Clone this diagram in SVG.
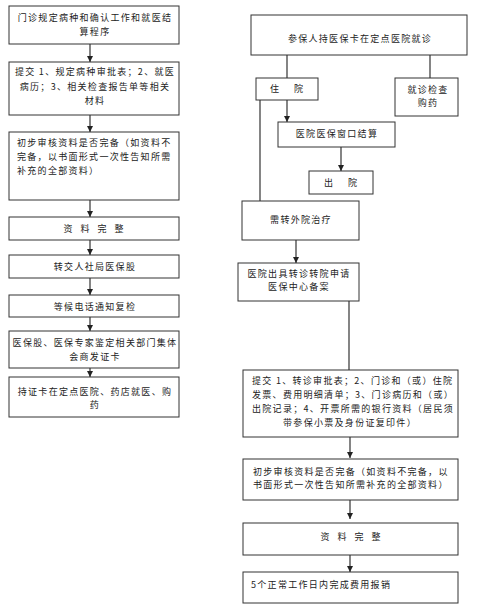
<svg xmlns="http://www.w3.org/2000/svg" width="477" height="607" viewBox="0 0 477 607">
<defs>
<style>
.box{fill:#fff;stroke:#333;stroke-width:1}
.t{font-family:"Noto Sans CJK SC","Noto Sans",sans-serif;font-size:9px;fill:#222;letter-spacing:1.3px}
.c{text-anchor:middle}
.w{letter-spacing:3px}
.ln{stroke:#333;stroke-width:1.2;fill:none}
.ar{stroke:#333;stroke-width:1.2;fill:none;marker-end:url(#ah)}
</style>
<marker id="ah" viewBox="0 0 10 10" refX="10" refY="5" markerWidth="6" markerHeight="6" markerUnits="userSpaceOnUse" orient="auto">
<path d="M0,0 L10,5 L0,10 z" fill="#222"/>
</marker>
</defs>
<rect width="477" height="607" fill="#fff"/>
<g id="connectors">
<line class="ar" x1="90" y1="44" x2="90" y2="62"/>
<line class="ar" x1="90" y1="115" x2="90" y2="132"/>
<line class="ar" x1="90" y1="200" x2="90" y2="217"/>
<line class="ar" x1="90" y1="240" x2="90" y2="255"/>
<line class="ar" x1="90" y1="278" x2="90" y2="295"/>
<line class="ar" x1="90" y1="317" x2="90" y2="331"/>
<line class="ar" x1="90" y1="368" x2="90" y2="377"/>
<line class="ln" x1="287" y1="55" x2="287" y2="78"/>
<line class="ln" x1="430" y1="55" x2="430" y2="78"/>
<line class="ar" x1="287" y1="100" x2="287" y2="122"/>
<line class="ar" x1="341" y1="147" x2="341" y2="171"/>
<line class="ln" x1="260" y1="100" x2="260" y2="201"/>
<line class="ar" x1="296" y1="240" x2="296" y2="263"/>
<line class="ar" x1="349" y1="301" x2="349" y2="377"/>
<line class="ar" x1="350" y1="437" x2="350" y2="458"/>
<line class="ar" x1="350" y1="500" x2="350" y2="519"/>
<line class="ar" x1="350" y1="555" x2="350" y2="572"/>
</g>
<g id="n1"><rect class="box" x="9" y="6" width="170" height="38"/>
<text class="t c" x="95" y="21">门诊规定病种和确认工作和就医结</text>
<text class="t c" x="95" y="35">算程序</text></g>
<g id="n2"><rect class="box" x="9" y="62" width="170" height="53"/>
<text class="t c" x="95" y="75">提交 1、规定病种审批表；2、就医</text>
<text class="t c" x="95" y="90">病历；3、相关检查报告单等相关</text>
<text class="t c" x="95" y="104">材料</text></g>
<g id="n3"><rect class="box" x="9" y="132" width="170" height="68"/>
<text class="t" x="17" y="146">初步审核资料是否完备（如资料不</text>
<text class="t" x="17" y="160">完备，以书面形式一次性告知所需</text>
<text class="t" x="17" y="174">补充的全部资料）</text></g>
<g id="n4"><rect class="box" x="9" y="217" width="170" height="23"/>
<text class="t c w" x="95" y="232">资 料 完 整</text></g>
<g id="n5"><rect class="box" x="9" y="255" width="170" height="23"/>
<text class="t c" x="95" y="270">转交人社局医保股</text></g>
<g id="n6"><rect class="box" x="9" y="295" width="170" height="22"/>
<text class="t c" x="95" y="310">等候电话通知复检</text></g>
<g id="n7"><rect class="box" x="9" y="331" width="170" height="37"/>
<text class="t c" x="95" y="346">医保股、医保专家鉴定相关部门集体</text>
<text class="t c" x="95" y="360">会商发证卡</text></g>
<g id="n8"><rect class="box" x="9" y="377" width="170" height="40"/>
<text class="t c" x="95" y="395">持证卡在定点医院、药店就医、购</text>
<text class="t c" x="95" y="408">药</text></g>
<g id="r1"><rect class="box" x="251" y="15" width="216" height="40"/>
<text class="t c" x="360" y="42">参保人持医保卡在定点医院就诊</text></g>
<g id="r2"><rect class="box" x="256" y="78" width="62" height="22"/>
<text class="t c w" x="288" y="92">住　院</text></g>
<g id="r3"><rect class="box" x="395" y="78" width="63" height="38"/>
<text class="t c" x="428" y="93">就诊检查</text>
<text class="t c" x="428" y="106">购药</text></g>
<g id="r4"><rect class="box" x="278" y="122" width="117" height="25"/>
<text class="t c" x="337" y="137">医院医保窗口结算</text></g>
<g id="r5"><rect class="box" x="309" y="171" width="64" height="23"/>
<text class="t c w" x="342" y="186">出　院</text></g>
<g id="r6"><rect class="box" x="242" y="201" width="117" height="39"/>
<text class="t c" x="301" y="223">需转外院治疗</text></g>
<g id="r7"><rect class="box" x="238" y="263" width="121" height="38"/>
<text class="t c" x="299" y="277">医院出具转诊转院申请</text>
<text class="t c" x="299" y="290">医保中心备案</text></g>
<g id="r8"><rect class="box" x="243" y="370" width="215" height="67"/>
<text class="t" x="252" y="384">提交 1、转诊审批表；2、门诊和（或）住院</text>
<text class="t" x="252" y="398">发票、费用明细清单；3、门诊病历和（或）</text>
<text class="t" x="252" y="412">出院记录；4、开票所需的银行资料（居民须</text>
<text class="t c" x="350" y="426">带参保小票及身份证复印件）</text></g>
<g id="r9"><rect class="box" x="243" y="459" width="215" height="41"/>
<text class="t" x="253" y="475">初步审核资料是否完备（如资料不完备，以</text>
<text class="t" x="253" y="488">书面形式一次性告知所需补充的全部资料）</text></g>
<g id="r10"><rect class="box" x="243" y="523" width="215" height="32"/>
<text class="t c w" x="352" y="540">资 料 完 整</text></g>
<g id="r11"><rect class="box" x="243" y="572" width="215" height="31"/>
<text class="t" x="251" y="588">5个正常工作日内完成费用报销</text></g>
</svg>
